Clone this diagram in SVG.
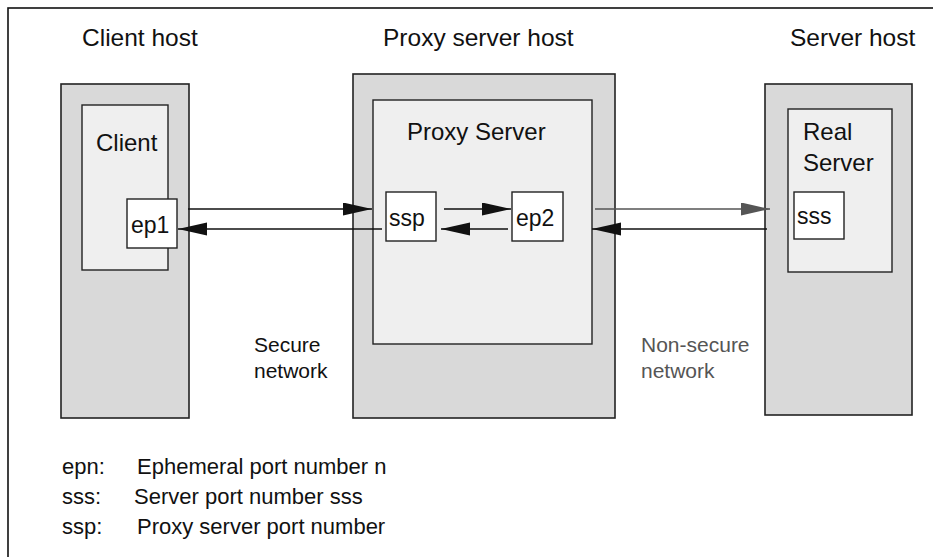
<svg xmlns="http://www.w3.org/2000/svg" width="933" height="557" viewBox="0 0 933 557">
<defs>
<style>
text{font-family:"Liberation Sans",Arial,sans-serif;fill:#111}
.t{font-size:24.5px}
.l{font-size:24px}
.p{font-size:23px}
.n{font-size:21px}
.g{font-size:22px}
.host{fill:#d9d9d9;stroke:#222;stroke-width:1.6}
.inner{fill:#efefef;stroke:#222;stroke-width:1.4}
.port{fill:#fff;stroke:#222;stroke-width:1.4}
.c{stroke:#111;stroke-width:1.4;fill:none}
.cg{stroke:#555;stroke-width:1.4;fill:none}
</style>
<marker id="ah" markerUnits="userSpaceOnUse" markerWidth="30" markerHeight="14" refX="29" refY="6.5" orient="auto">
<path d="M0,0 L29,6.5 L0,13 z" fill="#111"/>
</marker>
<marker id="ahg" markerUnits="userSpaceOnUse" markerWidth="30" markerHeight="14" refX="29" refY="6.5" orient="auto">
<path d="M0,0 L29,6.5 L0,13 z" fill="#555"/>
</marker>
</defs>
<rect x="8" y="8" width="940" height="560" fill="#fff" stroke="#111" stroke-width="1.6"/>

<g id="titles">
<text class="t" x="82" y="46">Client host</text>
<text class="t" x="383" y="46">Proxy server host</text>
<text class="t" x="790" y="46">Server host</text>
</g>

<g id="client-host">
<rect class="host" x="61" y="84" width="128" height="334"/>
<g id="client">
<rect class="inner" x="82" y="105" width="86" height="165"/>
<text class="l" x="96" y="151">Client</text>
</g>
<g id="ep1">
<rect class="port" x="127" y="199" width="50" height="49"/>
<text class="p" x="131" y="233">ep1</text>
</g>
</g>

<g id="proxy-host">
<rect class="host" x="353" y="74" width="262" height="344"/>
<g id="proxy-server">
<rect class="inner" x="373" y="100" width="219" height="244"/>
<text class="l" x="407" y="140">Proxy Server</text>
</g>
<g id="ssp">
<rect class="port" x="386" y="192" width="50" height="49"/>
<text class="p" x="389" y="226">ssp</text>
</g>
<g id="ep2">
<rect class="port" x="512" y="192" width="51" height="49"/>
<text class="p" x="516" y="226">ep2</text>
</g>
</g>

<g id="server-host">
<rect class="host" x="765" y="84" width="147" height="331"/>
<g id="real-server">
<rect class="inner" x="788" y="109" width="104" height="163"/>
<text class="l" x="803" y="140">Real</text>
<text class="l" x="803" y="171">Server</text>
</g>
<g id="sss">
<rect class="port" x="794" y="192" width="50" height="47"/>
<text class="p" x="797" y="224">sss</text>
</g>
</g>

<g id="connectors">
<line class="c" x1="188" y1="209" x2="372" y2="209" marker-end="url(#ah)"/>
<line class="c" x1="382" y1="229" x2="178" y2="229" marker-end="url(#ah)"/>
<line class="c" x1="444" y1="209" x2="511" y2="209" marker-end="url(#ah)"/>
<line class="c" x1="508" y1="229" x2="441" y2="229" marker-end="url(#ah)"/>
<line class="cg" x1="595" y1="209" x2="770" y2="209" marker-end="url(#ahg)"/>
<line class="c" x1="767" y1="229" x2="592" y2="229" marker-end="url(#ah)"/>
</g>

<g id="network-labels">
<text class="n" x="254" y="352">Secure</text>
<text class="n" x="254" y="378">network</text>
<text class="n" x="641" y="352" style="fill:#555">Non-secure</text>
<text class="n" x="641" y="378" style="fill:#555">network</text>
</g>

<g id="legend">
<text class="g" x="62" y="474">epn:</text>
<text class="g" x="137" y="474">Ephemeral port number n</text>
<text class="g" x="62" y="504">sss:</text>
<text class="g" x="134" y="504">Server port number sss</text>
<text class="g" x="62" y="534">ssp:</text>
<text class="g" x="137" y="534">Proxy server port number</text>
</g>
</svg>
